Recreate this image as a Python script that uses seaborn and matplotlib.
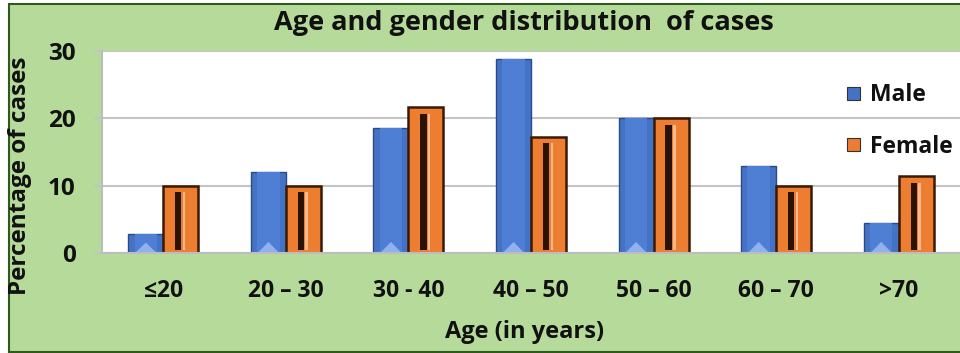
import matplotlib
matplotlib.use("Agg")
import matplotlib.pyplot as plt
import numpy as np
import pandas as pd
import seaborn as sns
from matplotlib.patches import Rectangle, Polygon

# Age groups and share of cases (%) per gender
ages = ["≤20", "20 – 30", "30 - 40", "40 – 50", "50 – 60", "60 – 70", ">70"]
male = [2.8, 12.1, 18.6, 28.8, 20.0, 12.9, 4.5]
female = [10.0, 10.0, 21.7, 17.3, 20.0, 10.0, 11.4]
genders = ["Male", "Female"]

GREEN = "#b5da9a"
BLUE = "#4472c4"
ORANGE = "#ed7d31"
TEXT = "#111111"

sns.set_theme(style="white")
plt.rcParams["font.family"] = ["Open Sans", "DejaVu Sans"]
plt.rcParams["font.weight"] = "bold"

fig = plt.figure(figsize=(9.6, 3.53), dpi=100, facecolor="white")
fig.add_artist(Rectangle((9 / 960, 1 / 353), 1.0, 348 / 353,
                         transform=fig.transFigure, facecolor=GREEN,
                         edgecolor="#2e5a1c", lw=1.5, zorder=0))

ax = fig.add_axes([102 / 960, 100 / 353, 858 / 960, 202 / 353])
ax.set_facecolor("white")

df = pd.DataFrame({
    "Age": ages * 2,
    "Gender": [genders[0]] * len(ages) + [genders[1]] * len(ages),
    "Percent": male + female,
})
sns.barplot(data=df, x="Age", y="Percent", hue="Gender", order=ages,
            hue_order=genders, palette=[BLUE, ORANGE], width=0.57,
            saturation=1, ax=ax, zorder=3)

ax.set_ylim(0, 30)
ax.set_xlim(-0.5, len(ages) - 0.5)
ax.set_yticks([0, 10, 20, 30])

# bevelled look for the bars
for bar in ax.containers[0]:
    bar.set_edgecolor("#2c4a86")
    bar.set_linewidth(1.0)
    x0, w, h = bar.get_x(), bar.get_width(), bar.get_height()
    ax.add_patch(Rectangle((x0 + 0.18 * w, 0), 0.64 * w, h, facecolor="#4f7fd4",
                           edgecolor="none", zorder=3.5))
    th = min(1.5, h * 0.5)
    ax.add_patch(Polygon([[x0 + 0.22 * w, 0.15], [x0 + 0.78 * w, 0.15],
                          [x0 + 0.5 * w, 0.15 + th]], closed=True,
                         facecolor="#8fb1f0", edgecolor="none", zorder=4))

for bar in ax.containers[1]:
    bar.set_edgecolor("#3a1a05")
    bar.set_linewidth(1.8)
    x0, w, h = bar.get_x(), bar.get_width(), bar.get_height()
    ax.add_patch(Rectangle((x0 + 0.34 * w, 0.5), 0.18 * w, h - 1.5,
                           facecolor="#2a1205", edgecolor="none", zorder=4))
    ax.add_patch(Rectangle((x0 + 0.56 * w, 0.5), 0.07 * w, h - 1.5,
                           facecolor="#f7b98c", edgecolor="none", zorder=4))

ax.yaxis.grid(True, color="#c4c4c4", lw=1.5)
ax.set_axisbelow(True)
for side in ["top", "right"]:
    ax.spines[side].set_visible(False)
for side in ["bottom", "left"]:
    ax.spines[side].set_color("#bdbdbd")
    ax.spines[side].set_linewidth(1.5)
    ax.spines[side].set_zorder(5)

ax.tick_params(axis="y", length=6, width=1.5, color="#c4c4c4", pad=13,
               labelsize=17.5, labelcolor=TEXT, left=True)
ax.tick_params(axis="x", length=0, pad=19, labelsize=16.5, labelcolor=TEXT)
for lab in ax.get_xticklabels() + ax.get_yticklabels():
    lab.set_fontweight("bold")
ax.set_xlabel("")
ax.set_ylabel("")

handles, labels = ax.get_legend_handles_labels()
for hd in handles:
    hd.set_edgecolor("#333333")
    hd.set_linewidth(0.8)
ax.legend(handles, labels, loc="upper left", bbox_to_anchor=(0.868, 0.84),
          frameon=False, prop={"size": 16.5, "weight": "bold"},
          handlelength=0.6, handleheight=0.5, handletextpad=0.4,
          labelspacing=1.2, borderpad=0, borderaxespad=0, labelcolor=TEXT)

fig.text(524 / 960, 1 - 23 / 353, "Age and gender distribution  of cases",
         ha="center", va="center", fontsize=19.5, fontweight="bold", color=TEXT)
fig.text(525 / 960, 1 - 332 / 353, "Age (in years)", ha="center", va="center",
         fontsize=17, fontweight="bold", color=TEXT)
fig.text(20 / 960, 1 - 176 / 353, "Percentage of cases", ha="center",
         va="center", rotation=90, fontsize=17.5, fontweight="bold", color=TEXT)

fig.savefig("out.png", dpi=100, facecolor=fig.get_facecolor())
